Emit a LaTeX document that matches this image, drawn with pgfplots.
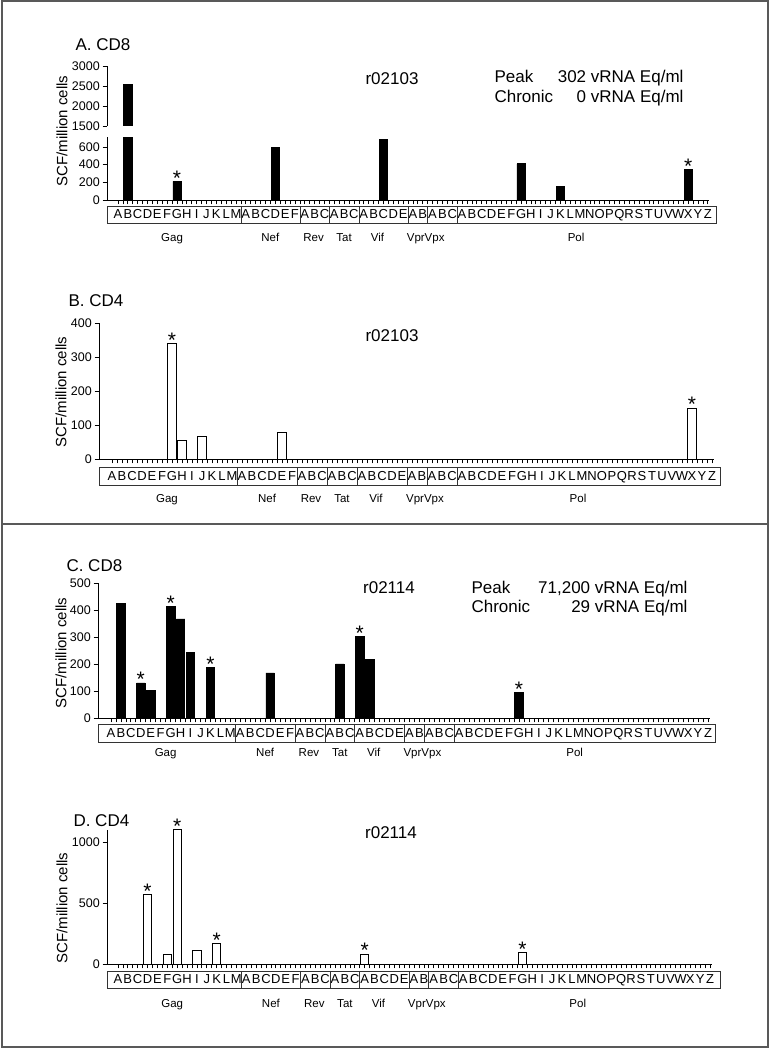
\documentclass[border=0pt]{standalone}
\usepackage{pgfplots}
\pgfplotsset{compat=1.18}
\usepackage{fontspec}
\setmainfont{Liberation Sans}

\newcommand\tfont{\fontsize{17}{20}\selectfont}
\newcommand\lfont{\fontsize{15}{18}\selectfont}
\newcommand\tickfont{\fontsize{12.5}{15}\selectfont}
\newcommand\letfont{\fontsize{13}{15}\selectfont}
\newcommand\grpfont{\fontsize{11.5}{14}\selectfont}
\newcommand\starfont{\fontsize{21}{21}\selectfont}

\pgfplotsset{
 panel/.style={
  scale only axis, clip=false,
  axis x line=bottom, axis y line=left,
  axis line style={-, line width=0.9pt},
  tick align=outside,
  xtick={0,...,60}, minor x tick num=1,
  major tick length=4.5pt, minor tick length=4.5pt,
  every tick/.style={black, line width=0.7pt},
  xticklabels={A,B,C,D,E,F,G,H,I,J,K,L,M,A,B,C,D,E,F,A,B,C,A,B,C,A,B,C,D,E,A,B,A,B,C,A,B,C,D,E,F,G,H,I,J,K,L,M,N,O,P,Q,R,S,T,U,V,W,X,Y,Z},
  xticklabel style={anchor=base, inner sep=0pt, font=\letfont},
  yticklabel style={anchor=east, inner sep=0pt, xshift=-2.5pt, font=\tickfont},
  /pgf/number format/assume math mode=true,
  /pgf/number format/1000 sep={},
 },
 cd8/.style={ybar, bar width=0.84, fill=black, draw=black, line width=0.6pt},
 cd4/.style={ybar, bar width=0.84, fill=white, draw=black, line width=0.9pt},
 star/.style={draw=none, mark=none, nodes near coords={*},
   every node near coord/.style={anchor=base, inner sep=0pt, yshift=-4pt, font=\starfont}},
}

% #1 box left, #2 box right, #3 box top offset, #4 box bottom offset, #5 group label baseline offset
\newcommand\catbox[5]{%
 \draw[line width=0.8pt, black!80] ([yshift=-#3pt]axis cs:#1,0) rectangle ([yshift=-#4pt]axis cs:#2,0);
 \draw[line width=0.6pt, black!80] ([yshift=-#3pt]axis cs:12.5,0) -- ([yshift=-#4pt]axis cs:12.5,0);
 \draw[line width=0.6pt, black!80] ([yshift=-#3pt]axis cs:18.5,0) -- ([yshift=-#4pt]axis cs:18.5,0);
 \draw[line width=0.6pt, black!80] ([yshift=-#3pt]axis cs:21.5,0) -- ([yshift=-#4pt]axis cs:21.5,0);
 \draw[line width=0.6pt, black!80] ([yshift=-#3pt]axis cs:24.5,0) -- ([yshift=-#4pt]axis cs:24.5,0);
 \draw[line width=0.6pt, black!80] ([yshift=-#3pt]axis cs:29.5,0) -- ([yshift=-#4pt]axis cs:29.5,0);
 \draw[line width=0.6pt, black!80] ([yshift=-#3pt]axis cs:31.5,0) -- ([yshift=-#4pt]axis cs:31.5,0);
 \draw[line width=0.6pt, black!80] ([yshift=-#3pt]axis cs:34.5,0) -- ([yshift=-#4pt]axis cs:34.5,0);
 \node[anchor=base, font=\grpfont] at ([yshift=-#5pt]axis cs:5.5,0) {Gag};
 \node[anchor=base, font=\grpfont] at ([yshift=-#5pt]axis cs:15.5,0) {Nef};
 \node[anchor=base, font=\grpfont] at ([yshift=-#5pt]axis cs:19.9,0) {Rev};
 \node[anchor=base, font=\grpfont] at ([yshift=-#5pt]axis cs:23,0) {Tat};
 \node[anchor=base, font=\grpfont] at ([yshift=-#5pt]axis cs:26.4,0) {Vif};
 \node[anchor=base, font=\grpfont] at ([yshift=-#5pt]axis cs:31.3,0) {VprVpx};
 \node[anchor=base, font=\grpfont] at ([yshift=-#5pt]axis cs:46.6,0) {Pol};
}

\begin{document}
\begin{tikzpicture}[x=1pt,y=1pt]
\path (0,0) rectangle (779,1048);
\draw[line width=2pt, black!65] (2,1) rectangle (768,1047);
\draw[line width=2pt, black!65] (2,524) -- (768,524);

% ---------------- Panel A ----------------
\begin{axis}[panel, at={(107pt,848pt)}, anchor=south west,
  width=601.8pt, height=62.7pt, xmin=-1.12, xmax=60.1, ymin=0, ymax=710,
  ytick={0,200,400,600}, xticklabel style={yshift=-14.5pt},
  restrict y to domain*=0:710]
\addplot[cd8] coordinates {(1,2530) (6,210) (16,600) (27,690) (41,410) (45,155) (58,350)};
\addplot[star] coordinates {(6,210) (58,350)};
\catbox{-1.12}{60.9}{6}{23}{42}
\end{axis}
\begin{axis}[scale only axis, at={(107pt,922pt)}, anchor=south west,
  width=601.8pt, height=60pt, xmin=-1.12, xmax=60.1, ymin=1500, ymax=3000,
  hide x axis, axis y line=left, axis line style={-, line width=0.9pt},
  tick align=outside, major tick length=4.5pt,
  every tick/.style={black, line width=0.7pt},
  ytick={1500,2000,2500,3000},
  yticklabel style={anchor=east, inner sep=0pt, xshift=-2.5pt, font=\tickfont},
  /pgf/number format/assume math mode=true, /pgf/number format/1000 sep={}]
\addplot[cd8] coordinates {(1,2530)};
\end{axis}
\node[anchor=base west, font=\tfont] at (72,997) {A. CD8};
\node[anchor=base, font=\tfont] at (392,963) {r02103};
\node[anchor=base west, font=\tfont] at (491,965) {Peak};
\node[anchor=base east, font=\tfont] at (687,965) {302 vRNA Eq/ml};
\node[anchor=base west, font=\tfont] at (491,945) {Chronic};
\node[anchor=base east, font=\tfont] at (687,945) {0 vRNA Eq/ml};
\node[rotate=90, font=\lfont] at (62,917) {SCF/million cells};

% ---------------- Panel B ----------------
\begin{axis}[panel, at={(99pt,589pt)}, anchor=south west,
  width=615pt, height=136pt, xmin=-1.3, xmax=60.2, ymin=0, ymax=400,
  ytick={0,100,200,300,400}, xticklabel style={yshift=-17pt}]
\addplot[cd4] coordinates {(6,340) (7,55) (9,65) (17,78) (58,150)};
\addplot[star] coordinates {(6,340) (58,150)};
\catbox{-1.3}{60.8}{8}{26}{44}
\end{axis}
\node[anchor=base west, font=\tfont] at (65,741) {B. CD4};
\node[anchor=base, font=\tfont] at (392,706) {r02103};
\node[rotate=90, font=\lfont] at (61,656) {SCF/million cells};

% ---------------- Panel C ----------------
\begin{axis}[panel, at={(98pt,330pt)}, anchor=south west,
  width=612pt, height=135pt, xmin=-1.3, xmax=60.2, ymin=0, ymax=500,
  ytick={0,100,200,300,400,500}, xticklabel style={yshift=-15pt}]
\addplot[cd8] coordinates {(1,425) (3,130) (4,103) (6,413) (7,367) (8,242) (10,186)
  (16,167) (23,200) (25,303) (26,218) (41,96)};
\addplot[star] coordinates {(3,130) (6,413) (10,186) (25,303) (41,96)};
\catbox{-1.3}{60.7}{6}{24}{39}
\end{axis}
\node[anchor=base west, font=\tfont] at (63,476) {C. CD8};
\node[anchor=base, font=\tfont] at (389,454) {r02114};
\node[anchor=base west, font=\tfont] at (468,454) {Peak};
\node[anchor=base east, font=\tfont] at (691,454) {71,200 vRNA Eq/ml};
\node[anchor=base west, font=\tfont] at (468,435) {Chronic};
\node[anchor=base east, font=\tfont] at (691,435) {29 vRNA Eq/ml};
\node[rotate=90, font=\lfont] at (61,395) {SCF/million cells};

% ---------------- Panel D ----------------
\begin{axis}[panel, at={(107pt,84pt)}, anchor=south west,
  width=605pt, height=134.2pt, xmin=-1.11, xmax=60.2, ymin=0, ymax=1100,
  ytick={0,500,1000}, xticklabel style={yshift=-15.5pt}]
\addplot[cd4] coordinates {(3,570) (5,75) (6,1100) (8,110) (10,165) (25,82) (41,97)};
\addplot[star] coordinates {(3,570) (6,1100) (10,165) (25,82) (41,97)};
\catbox{-1.11}{61.0}{7}{24}{44}
\end{axis}
\node[anchor=base west, font=\tfont] at (70,221) {D. CD4};
\node[anchor=base, font=\tfont] at (391,209) {r02114};
\node[rotate=90, font=\lfont] at (62,140) {SCF/million cells};
\end{tikzpicture}
\end{document}
